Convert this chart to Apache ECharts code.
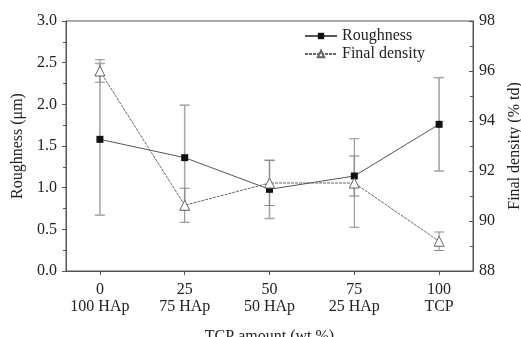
<!DOCTYPE html>
<html>
<head>
<meta charset="utf-8">
<script src="https://cdn.jsdelivr.net/npm/echarts@6/dist/echarts.min.js"></script>
<style>html,body{margin:0;padding:0;background:#fff}#c{width:521px;height:337px}</style>
</head>
<body>
<div id="c"></div>
<script>
var xValues = [0, 25, 50, 75, 100];
var xLabels2 = ['100 HAp', '75 HAp', '50 HAp', '25 HAp', 'TCP'];
var roughness = [1.58, 1.36, 0.98, 1.14, 1.76];
var roughnessErr = [0.91, 0.63, 0.35, 0.24, 0.56];
var density = [96.0, 90.63, 91.52, 91.52, 89.19];
var densityErr = [0.45, 0.68, 0.90, 1.77, 0.37];
var leftTicks = [0, 0.5, 1.0, 1.5, 2.0, 2.5, 3.0];
var rightTicks = [88, 90, 92, 94, 96, 98];

var FONT = 'Liberation Serif';
var TXT = '#222';
var AX = '#555';

function errData(vals, errs) {
  return xValues.map(function (x, i) { return [x, vals[i] - errs[i], vals[i] + errs[i]]; });
}
function errRender(color, width) {
  return function (params, api) {
    var x = api.value(0);
    var lo = api.coord([x, api.value(1)]);
    var hi = api.coord([x, api.value(2)]);
    var hw = 5;
    var st = { stroke: color, lineWidth: width, fill: null };
    return {
      type: 'group',
      children: [
        { type: 'line', shape: { x1: lo[0], y1: lo[1], x2: hi[0], y2: hi[1] }, style: st },
        { type: 'line', shape: { x1: lo[0] - hw, y1: lo[1], x2: lo[0] + hw, y2: lo[1] }, style: st },
        { type: 'line', shape: { x1: hi[0] - hw, y1: hi[1], x2: hi[0] + hw, y2: hi[1] }, style: st }
      ]
    };
  };
}

var chart = echarts.init(document.getElementById('c'));
chart.setOption({
  animation: false,
  textStyle: { fontFamily: FONT },
  grid: { left: 66, right: 48, top: 21, bottom: 66, containLabel: false, outerBoundsMode: 'none', show: true, borderColor: AX, borderWidth: 1, backgroundColor: 'transparent' },
  legend: {
    left: 299, top: 23, orient: 'vertical', itemWidth: 32, itemHeight: 8, itemGap: 2,
    textStyle: { fontFamily: FONT, fontSize: 16, color: TXT },
    data: ['Roughness', 'Final density']
  },
  xAxis: {
    type: 'value', min: -10, max: 110,
    name: 'TCP amount (wt %)', nameLocation: 'middle', nameGap: 58,
    nameTextStyle: { fontFamily: FONT, fontSize: 16, color: TXT },
    axisLine: { onZero: false, lineStyle: { color: AX } },
    axisTick: { show: true, inside: false, length: 4, lineStyle: { color: AX }, customValues: xValues },
    axisLabel: {
      customValues: xValues, margin: 10, fontFamily: FONT, fontSize: 16, color: TXT, lineHeight: 17,
      formatter: function (v) { var i = xValues.indexOf(v); return v + '\n' + xLabels2[i]; }
    },
    splitLine: { show: false }
  },
  yAxis: [{
    type: 'value', min: 0, max: 3, interval: 0.5, position: 'left',
    name: 'Roughness (\u03bcm)', nameLocation: 'middle', nameGap: 40, nameRotate: 90,
    nameTextStyle: { fontFamily: FONT, fontSize: 16, color: TXT },
    axisLine: { show: true, onZero: false, lineStyle: { color: AX } },
    axisTick: { show: true, inside: false, length: 4, lineStyle: { color: AX } },
    minorTick: { show: true, splitNumber: 2, length: 3, lineStyle: { color: AX } },
    axisLabel: { fontFamily: FONT, fontSize: 16, color: TXT, margin: 9, formatter: function (v) { return v.toFixed(1); } },
    splitLine: { show: false }
  }, {
    type: 'value', min: 88, max: 98, interval: 2, position: 'right',
    name: 'Final density (% td)', nameLocation: 'middle', nameGap: 34, nameRotate: 90,
    nameTextStyle: { fontFamily: FONT, fontSize: 16, color: TXT },
    axisLine: { show: true, onZero: false, lineStyle: { color: AX } },
    axisTick: { show: true, inside: true, length: 4, lineStyle: { color: AX } },
    minorTick: { show: true, splitNumber: 2, length: 3, lineStyle: { color: AX } },
    axisLabel: { fontFamily: FONT, fontSize: 16, color: TXT, margin: 6 },
    splitLine: { show: false }
  }],
  series: [{
    type: 'custom', name: 'rErr', yAxisIndex: 0, silent: true, z: 1,
    renderItem: errRender('#a8a8a8', 1.6), data: errData(roughness, roughnessErr),
    encode: { x: 0, y: [1, 2] }
  }, {
    type: 'custom', name: 'dErr', yAxisIndex: 1, silent: true, z: 1,
    renderItem: errRender('#8a8a8a', 1), data: errData(density, densityErr),
    encode: { x: 0, y: [1, 2] }
  }, {
    type: 'line', name: 'Roughness', yAxisIndex: 0, z: 3,
    data: xValues.map(function (x, i) { return [x, roughness[i]]; }),
    symbol: 'rect', symbolSize: 7,
    lineStyle: { color: '#555', width: 1 },
    itemStyle: { color: '#111', borderColor: '#111', borderWidth: 0 }
  }, {
    type: 'line', name: 'Final density', yAxisIndex: 1, z: 4,
    data: xValues.map(function (x, i) { return [x, density[i]]; }),
    symbol: 'triangle', symbolSize: 10,
    lineStyle: { color: '#666', width: 1, type: [3, 1] },
    itemStyle: { color: '#fff', borderColor: '#666', borderWidth: 1 }
  }]
});
</script>
</body>
</html>
